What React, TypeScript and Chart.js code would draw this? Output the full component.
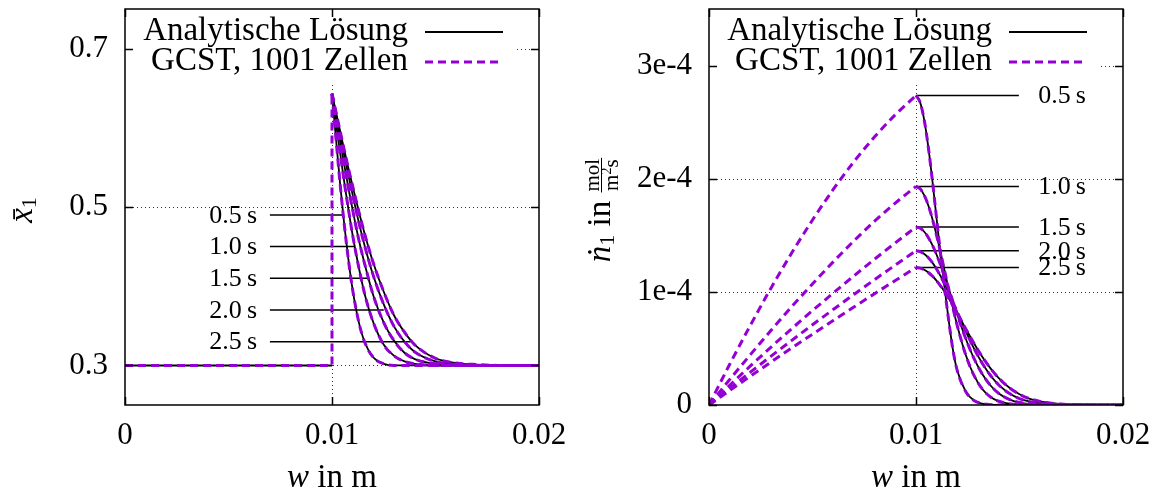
import React, { useEffect, useRef } from 'react';
import { Chart, registerables } from 'chart.js';
Chart.register(...registerables);

const FONT = "'Liberation Serif', 'Times New Roman', serif";
const BLACK = '#000000';
const PURPLE = '#9400d3';

// ---------- shared axis ----------
const wTicks = [0, 0.01, 0.02];
const wTickLabels = ['0', '0.01', '0.02'];
const timeLabels = ['0.5\u2009s', '1.0\u2009s', '1.5\u2009s', '2.0\u2009s', '2.5\u2009s'];

// ---------- left chart: x̄1 ----------
const xbarTicks = [0.3, 0.5, 0.7];
const xbarTickLabels = ['0.3', '0.5', '0.7'];
const wBase = [0, 0.01];
const xbarBase = [0.3, 0.3];
const wJump = [0, 0.01, 0.01];
const xbarJump = [0.3, 0.3, 0.643];
const wDecay = [0.01, 0.0102, 0.0104, 0.0106, 0.0108, 0.011, 0.0113, 0.0116, 0.012, 0.0125, 0.013, 0.0135, 0.014, 0.015, 0.016, 0.017, 0.018, 0.02];
const xbar05 = [0.643, 0.584, 0.527, 0.476, 0.432, 0.395, 0.354, 0.328, 0.310, 0.302, 0.300, 0.300, 0.300, 0.300, 0.300, 0.300, 0.300, 0.300];
const xbar10 = [0.643, 0.604, 0.567, 0.530, 0.496, 0.464, 0.423, 0.388, 0.354, 0.326, 0.312, 0.305, 0.302, 0.300, 0.300, 0.300, 0.300, 0.300];
const xbar15 = [0.643, 0.612, 0.582, 0.552, 0.523, 0.496, 0.458, 0.426, 0.388, 0.354, 0.331, 0.316, 0.308, 0.302, 0.300, 0.300, 0.300, 0.300];
const xbar20 = [0.643, 0.616, 0.590, 0.564, 0.539, 0.515, 0.480, 0.449, 0.413, 0.377, 0.349, 0.330, 0.317, 0.305, 0.301, 0.300, 0.300, 0.300];
const xbar25 = [0.643, 0.619, 0.595, 0.571, 0.548, 0.526, 0.494, 0.464, 0.429, 0.393, 0.363, 0.342, 0.326, 0.309, 0.303, 0.301, 0.300, 0.300];
const xbarSeries = [xbar05, xbar10, xbar15, xbar20, xbar25];
const leftLabelY = [0.49, 0.45, 0.41, 0.37, 0.33];
const leftLabelEndW = [0.01053, 0.01111, 0.01174, 0.0125, 0.0138];
const leftLabelStartW = 0.0070;
const leftLabelTextW = 0.00638;

// ---------- right chart: ṅ1 (units of 1e-4) ----------
const fluxTicks = [0, 1, 2, 3];
const fluxTickLabels = ['0', '1e-4', '2e-4', '3e-4'];
const wRise = [0, 0.001, 0.002, 0.003, 0.004, 0.005, 0.006, 0.007, 0.008, 0.009, 0.01];
const flux05Rise = [0, 0.36, 0.705, 1.035, 1.345, 1.635, 1.905, 2.15, 2.37, 2.565, 2.735];
const flux10Rise = [0, 0.225, 0.445, 0.66, 0.87, 1.07, 1.265, 1.45, 1.625, 1.785, 1.932];
const flux15Rise = [0, 0.174, 0.345, 0.512, 0.675, 0.834, 0.989, 1.141, 1.289, 1.433, 1.573];
const flux20Rise = [0, 0.146, 0.290, 0.432, 0.571, 0.709, 0.844, 0.977, 1.108, 1.237, 1.363];
const flux25Rise = [0, 0.128, 0.255, 0.380, 0.504, 0.626, 0.746, 0.866, 0.984, 1.100, 1.215];
const wFall = [0.01, 0.0102, 0.0104, 0.0106, 0.0108, 0.011, 0.0112, 0.0114, 0.0116, 0.0118, 0.012, 0.0124, 0.0128, 0.0132, 0.0136, 0.014, 0.0145, 0.015, 0.0155, 0.016, 0.017, 0.018, 0.02];
const flux05Fall = [2.735, 2.675, 2.516, 2.272, 1.970, 1.639, 1.310, 1.004, 0.72, 0.47, 0.30, 0.12, 0.04, 0.012, 0.003, 0, 0, 0, 0, 0, 0, 0, 0];
const flux10Fall = [1.932, 1.911, 1.853, 1.761, 1.639, 1.495, 1.337, 1.171, 1.004, 0.845, 0.696, 0.444, 0.261, 0.142, 0.071, 0.033, 0.011, 0.003, 0.001, 0, 0, 0, 0];
const flux15Fall = [1.573, 1.562, 1.531, 1.479, 1.410, 1.326, 1.230, 1.126, 1.016, 0.905, 0.795, 0.588, 0.412, 0.274, 0.172, 0.102, 0.050, 0.022, 0.009, 0.003, 0.001, 0, 0];
const flux20Fall = [1.363, 1.356, 1.335, 1.302, 1.256, 1.200, 1.134, 1.061, 0.983, 0.902, 0.818, 0.654, 0.501, 0.369, 0.261, 0.177, 0.103, 0.056, 0.029, 0.014, 0.003, 0, 0];
const flux25Fall = [1.215, 1.210, 1.195, 1.171, 1.138, 1.097, 1.049, 0.995, 0.936, 0.873, 0.808, 0.675, 0.546, 0.427, 0.324, 0.237, 0.154, 0.095, 0.055, 0.031, 0.008, 0.002, 0];
const fluxRiseSeries = [flux05Rise, flux10Rise, flux15Rise, flux20Rise, flux25Rise];
const fluxFallSeries = [flux05Fall, flux10Fall, flux15Fall, flux20Fall, flux25Fall];
const rightLabelY = [2.735, 1.932, 1.573, 1.363, 1.215];
const rightLabelStartW = 0.01;
const rightLabelEndW = 0.01497;
const rightLabelTextW = 0.0159;

const legendNames = ['Analytische Lösung', 'GCST, 1001 Zellen'];

type Pt = { x: number; y: number };
const zip = (xs: number[], ys: number[]): Pt[] => xs.map((x, i) => ({ x, y: ys[i] }));

const line = (data: Pt[], color: string, width: number, dash: number[], order: number, smooth: boolean) => ({
  data,
  borderColor: color,
  backgroundColor: color,
  borderWidth: width,
  borderDash: dash,
  fill: false,
  pointRadius: 0,
  order,
  tension: 0,
  cubicInterpolationMode: smooth ? 'monotone' : 'default',
});

const DASH = [8, 5];

function runsWidth(ctx: CanvasRenderingContext2D, runs: any[]) {
  let w = 0;
  runs.forEach((r) => {
    ctx.font = r.font;
    w += ctx.measureText(r.text).width;
  });
  return w;
}
function drawRuns(ctx: CanvasRenderingContext2D, runs: any[], x0: number, y0: number) {
  let x = x0;
  runs.forEach((r) => {
    ctx.font = r.font;
    ctx.fillText(r.text, x, y0 + (r.dy || 0));
    x += ctx.measureText(r.text).width;
  });
  return x;
}

function makeDecor(cfg: any) {
  return {
    id: 'decor',
    beforeDatasetsDraw(chart: any) {
      const { ctx, chartArea: a, scales } = chart;
      ctx.save();
      ctx.strokeStyle = '#333';
      ctx.lineWidth = 1;
      ctx.setLineDash([1, 3]);
      cfg.yGrid.forEach((v: number) => {
        const y = Math.round(scales.y.getPixelForValue(v)) + 0.5;
        ctx.beginPath();
        ctx.moveTo(a.left, y);
        ctx.lineTo(a.right, y);
        ctx.stroke();
      });
      cfg.xGrid.forEach((v: number) => {
        const x = Math.round(scales.x.getPixelForValue(v)) + 0.5;
        ctx.beginPath();
        ctx.moveTo(x, a.top);
        ctx.lineTo(x, a.bottom);
        ctx.stroke();
      });
      ctx.restore();
    },
    afterDatasetsDraw(chart: any) {
      const { ctx, chartArea: a, scales } = chart;
      ctx.save();
      // legend box
      ctx.fillStyle = '#fff';
      ctx.fillRect(a.left + 1, a.top + 1, 390, 72);
      ctx.fillStyle = BLACK;
      ctx.textBaseline = 'alphabetic';
      ctx.textAlign = 'right';
      ctx.font = `33px ${FONT}`;
      ctx.fillText(legendNames[0], a.left + 283, 40);
      ctx.fillText(legendNames[1], a.left + 283, 70);
      ctx.strokeStyle = BLACK;
      ctx.lineWidth = 2;
      ctx.beginPath();
      ctx.moveTo(a.left + 300, 32);
      ctx.lineTo(a.left + 378, 32);
      ctx.stroke();
      ctx.strokeStyle = PURPLE;
      ctx.lineWidth = 3;
      ctx.setLineDash(DASH);
      ctx.beginPath();
      ctx.moveTo(a.left + 300, 62);
      ctx.lineTo(a.left + 374, 62);
      ctx.stroke();
      ctx.setLineDash([]);

      // time labels
      ctx.font = `26px ${FONT}`;
      ctx.textBaseline = 'middle';
      ctx.fillStyle = BLACK;
      cfg.labels.forEach((l: any) => {
        ctx.textAlign = l.align;
        ctx.fillText(l.text, scales.x.getPixelForValue(l.x), scales.y.getPixelForValue(l.y) + 1);
      });

      // ticks (inward, mirrored)
      ctx.strokeStyle = BLACK;
      ctx.lineWidth = 1.5;
      const T = 8;
      cfg.yTicks.forEach((v: number) => {
        const y = Math.round(scales.y.getPixelForValue(v)) + 0.5;
        ctx.beginPath();
        ctx.moveTo(a.left, y);
        ctx.lineTo(a.left + T, y);
        ctx.moveTo(a.right, y);
        ctx.lineTo(a.right - T, y);
        ctx.stroke();
      });
      cfg.xTicks.forEach((v: number) => {
        const x = Math.round(scales.x.getPixelForValue(v)) + 0.5;
        ctx.beginPath();
        ctx.moveTo(x, a.bottom);
        ctx.lineTo(x, a.bottom - T);
        ctx.moveTo(x, a.top);
        ctx.lineTo(x, a.top + T);
        ctx.stroke();
      });
      // border
      ctx.lineWidth = 1.5;
      ctx.strokeRect(a.left, a.top, a.right - a.left, a.bottom - a.top);

      // x title
      ctx.textAlign = 'left';
      ctx.textBaseline = 'alphabetic';
      const xRuns = [
        { text: 'w', font: `italic 33px ${FONT}` },
        { text: ' in m', font: `33px ${FONT}` },
      ];
      const cx = (a.left + a.right) / 2;
      drawRuns(ctx, xRuns, cx - runsWidth(ctx, xRuns) / 2, 487);

      // y title
      cfg.drawYTitle(ctx, a);
      ctx.restore();
    },
  };
}

function drawLeftYTitle(ctx: CanvasRenderingContext2D) {
  ctx.save();
  ctx.translate(32, 210);
  ctx.rotate(-Math.PI / 2);
  ctx.textAlign = 'left';
  ctx.textBaseline = 'alphabetic';
  const runs = [
    { text: 'x\u0304', font: `italic 33px ${FONT}` },
    { text: '1', font: `22px ${FONT}`, dy: 4 },
  ];
  drawRuns(ctx, runs, -runsWidth(ctx, runs) / 2, 0);
  ctx.restore();
}

function drawRightYTitle(ctx: CanvasRenderingContext2D) {
  ctx.save();
  ctx.translate(32, 210);
  ctx.rotate(-Math.PI / 2);
  ctx.textAlign = 'left';
  ctx.textBaseline = 'alphabetic';
  const runs = [
    { text: '\u1E45', font: `italic 33px ${FONT}` },
    { text: '1', font: `22px ${FONT}`, dy: 4 },
    { text: ' in ', font: `33px ${FONT}` },
  ];
  const fracFont = `21px ${FONT}`;
  ctx.font = fracFont;
  const numW = ctx.measureText('mol').width;
  const mW = ctx.measureText('m').width;
  const sW = ctx.measureText('s').width;
  ctx.font = `14px ${FONT}`;
  const supW = ctx.measureText('2').width;
  const denW = mW + supW + sW;
  const fracW = Math.max(numW, denW) + 2;
  const total = runsWidth(ctx, runs) + fracW;
  const x = drawRuns(ctx, runs, -total / 2, 0);
  ctx.font = fracFont;
  ctx.fillText('mol', x + (fracW - numW) / 2, -11);
  const dx = x + (fracW - denW) / 2;
  ctx.fillText('m', dx, 8);
  ctx.font = `14px ${FONT}`;
  ctx.fillText('2', dx + mW, 1);
  ctx.font = fracFont;
  ctx.fillText('s', dx + mW + supW, 8);
  ctx.lineWidth = 1;
  ctx.strokeStyle = BLACK;
  ctx.beginPath();
  ctx.moveTo(x, -8.5);
  ctx.lineTo(x + fracW, -8.5);
  ctx.stroke();
  ctx.restore();
}

function axisOptions(yMin: number, yMax: number, yTicks: number[], yLabels: string[], yWidth: number, padRight: number) {
  const tickFont = { family: FONT, size: 31 };
  return {
    responsive: false,
    animation: false,
    events: [],
    layout: { padding: { top: 9, right: padRight, bottom: 0, left: 0 } },
    plugins: { legend: { display: false }, tooltip: { enabled: false } },
    elements: { point: { radius: 0 } },
    scales: {
      x: {
        type: 'linear',
        min: 0,
        max: 0.02,
        afterBuildTicks: (s: any) => {
          s.ticks = wTicks.map((v) => ({ value: v }));
        },
        afterFit: (s: any) => {
          s.height = 89;
          s.paddingLeft = 0;
          s.paddingRight = 0;
        },
        grid: { display: false, drawTicks: false },
        border: { display: false },
        ticks: {
          padding: 12,
          font: tickFont,
          color: BLACK,
          maxRotation: 0,
          autoSkip: false,
          callback: (_v: any, i: number) => wTickLabels[i],
        },
      },
      y: {
        type: 'linear',
        min: yMin,
        max: yMax,
        afterBuildTicks: (s: any) => {
          s.ticks = yTicks.map((v) => ({ value: v }));
        },
        afterFit: (s: any) => {
          s.width = yWidth;
          s.paddingTop = 0;
          s.paddingBottom = 0;
        },
        grid: { display: false, drawTicks: false },
        border: { display: false },
        ticks: {
          padding: 17,
          font: tickFont,
          color: BLACK,
          autoSkip: false,
          callback: (_v: any, i: number) => yLabels[i],
        },
      },
    },
  };
}

function leftConfig() {
  const datasets: any[] = [];
  datasets.push(line(zip(wJump, xbarJump), PURPLE, 3, DASH, 0, false));
  xbarSeries.forEach((s) => datasets.push(line(zip(wDecay, s), PURPLE, 3, DASH, 0, true)));
  datasets.push(line(zip(wBase, xbarBase), BLACK, 2, [], 1, false));
  xbarSeries.forEach((s) => datasets.push(line(zip(wDecay, s), BLACK, 1.8, [], 1, true)));
  leftLabelY.forEach((y, i) =>
    datasets.push(line([{ x: leftLabelStartW, y }, { x: leftLabelEndW[i], y }], BLACK, 1.5, [], 2, false))
  );
  const labels = leftLabelY.map((y, i) => ({ text: timeLabels[i], x: leftLabelTextW, y, align: 'right' }));
  return {
    type: 'line',
    data: { datasets },
    options: axisOptions(0.25, 0.75, xbarTicks, xbarTickLabels, 125, 39),
    plugins: [makeDecor({ yGrid: [0.3, 0.5, 0.7], xGrid: [0.01], yTicks: xbarTicks, xTicks: wTicks, labels, drawYTitle: drawLeftYTitle })],
  };
}

function rightConfig() {
  const datasets: any[] = [];
  fluxRiseSeries.forEach((s) => datasets.push(line(zip(wRise, s), PURPLE, 3, DASH, 0, true)));
  fluxFallSeries.forEach((s) => datasets.push(line(zip(wFall, s), PURPLE, 3, DASH, 0, true)));
  fluxFallSeries.forEach((s) => datasets.push(line(zip(wFall, s), BLACK, 1.8, [], 1, true)));
  rightLabelY.forEach((y) =>
    datasets.push(line([{ x: rightLabelStartW, y }, { x: rightLabelEndW, y }], BLACK, 1.5, [], 2, false))
  );
  const labels = rightLabelY.map((y, i) => ({ text: timeLabels[i], x: rightLabelTextW, y, align: 'left' }));
  return {
    type: 'line',
    data: { datasets },
    options: axisOptions(0, 3.5, fluxTicks, fluxTickLabels, 131, 34),
    plugins: [makeDecor({ yGrid: [1, 2, 3], xGrid: [0.01], yTicks: fluxTicks, xTicks: wTicks, labels, drawYTitle: drawRightYTitle })],
  };
}

function ChartCanvas({ make, left, width }: { make: () => any; left: number; width: number }) {
  const ref = useRef<HTMLCanvasElement | null>(null);
  useEffect(() => {
    if (!ref.current) return;
    const chart = new Chart(ref.current, make() as any);
    return () => chart.destroy();
  }, []);
  return (
    <canvas
      ref={ref}
      width={width}
      height={494}
      style={{ position: 'absolute', left, top: 0, width, height: 494 }}
    />
  );
}

export default function App() {
  return (
    <div style={{ position: 'absolute', left: 0, top: 0, width: 1157, height: 494, background: '#fff' }}>
      <ChartCanvas make={leftConfig} left={0} width={578} />
      <ChartCanvas make={rightConfig} left={578} width={579} />
    </div>
  );
}
